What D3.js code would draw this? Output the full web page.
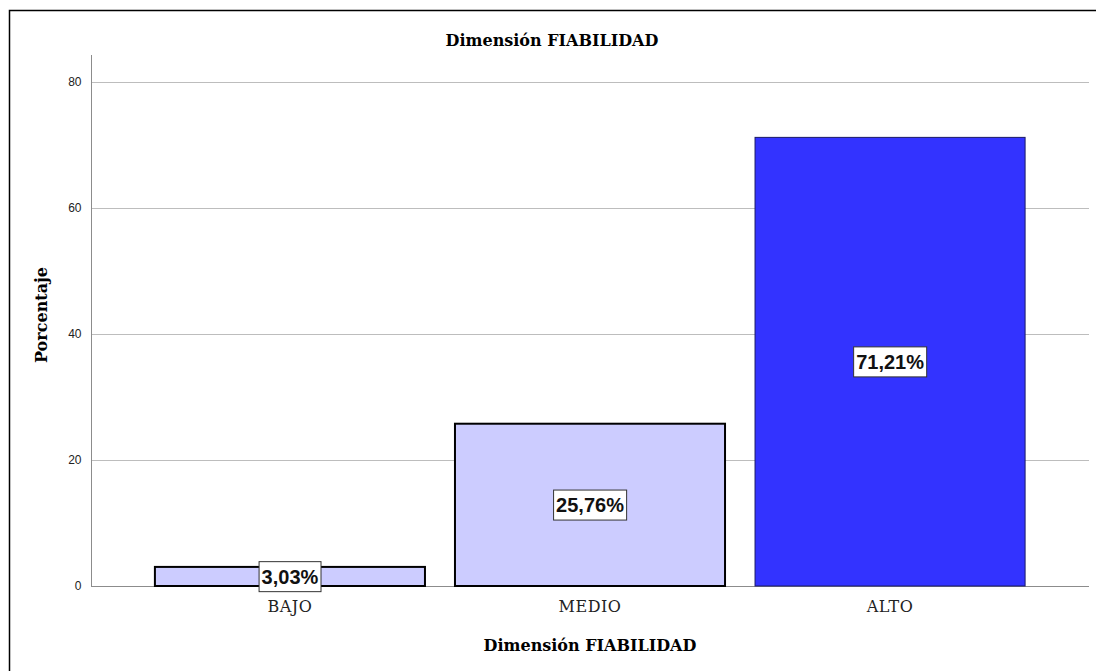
<!DOCTYPE html>
<html>
<head>
<meta charset="utf-8">
<script src="https://cdn.jsdelivr.net/npm/d3@7"></script>
<style>
  body { margin: 0; background: #fff; }
  svg { display: block; }
</style>
</head>
<body>
<div id="chart"></div>
<script>
// chart data
const categories = ["BAJO", "MEDIO", "ALTO"];
const percentages = [3.03, 25.76, 71.21];
const barLabels = ["3,03%", "25,76%", "71,21%"];
const yTicks = [0, 20, 40, 60, 80];
const barColors = ["#ccccff", "#ccccff", "#3333ff"];

const width = 1096, height = 671;
const plot = { left: 91, right: 1089, top: 55, bottom: 586 };
const serif = "DejaVu Serif, Liberation Serif, serif";

const svg = d3.select("#chart").append("svg")
    .attr("width", width)
    .attr("height", height);

// outer frame, runs off the right and bottom edges
svg.append("rect")
    .attr("x", 9.5).attr("y", 10.5)
    .attr("width", width + 20).attr("height", height + 20)
    .attr("fill", "none")
    .attr("stroke", "#000")
    .attr("stroke-width", 1.5);

let x = d3.scaleBand()
    .domain(categories)
    .range([plot.left, plot.right])
    .paddingInner(0.1)
    .paddingOuter(0.213);

let y = d3.scaleLinear()
    .domain([0, 80])
    .range([plot.bottom, plot.bottom - 504]);

// gridlines
svg.append("g").selectAll("line")
    .data(yTicks.filter(d => d > 0))
    .enter().append("line")
    .attr("x1", plot.left).attr("x2", plot.right)
    .attr("y1", d => Math.round(y(d)) + 0.5)
    .attr("y2", d => Math.round(y(d)) + 0.5)
    .attr("stroke", "#bdbdbd")
    .attr("stroke-width", 1);

// y axis
let yAx = svg.append("g")
    .attr("transform", "translate(" + (plot.left + 0.5) + ",0)")
    .call(d3.axisLeft(y).tickValues(yTicks).tickSize(0).tickPadding(10));
yAx.select(".domain").remove();
yAx.selectAll("text")
    .style("font-family", "Liberation Sans, Arial, sans-serif")
    .style("font-size", "12px")
    .attr("fill", "#222");

svg.append("line")
    .attr("x1", plot.left + 0.5).attr("x2", plot.left + 0.5)
    .attr("y1", plot.top).attr("y2", plot.bottom)
    .attr("stroke", "#8c8c8c");

svg.append("line")
    .attr("x1", plot.left).attr("x2", plot.right)
    .attr("y1", plot.bottom + 0.5).attr("y2", plot.bottom + 0.5)
    .attr("stroke", "#8c8c8c");

// bars
svg.append("g").selectAll("rect")
    .data(percentages)
    .enter().append("rect")
    .attr("x", (d, i) => x(categories[i]))
    .attr("y", d => y(d))
    .attr("width", x.bandwidth())
    .attr("height", d => y(0) - y(d))
    .attr("fill", (d, i) => barColors[i])
    .attr("stroke", (d, i) => i === 2 ? "#1a1a66" : "#000")
    .attr("stroke-width", (d, i) => i === 2 ? 1 : 2);

// value labels in boxes
let lab = svg.append("g").selectAll("g")
    .data(percentages)
    .enter().append("g")
    .attr("transform", (d, i) => "translate(" + (x(categories[i]) + x.bandwidth() / 2) + "," + (y(d / 2)) + ")");

lab.append("text")
    .attr("text-anchor", "middle")
    .attr("dy", "0.36em")
    .style("font-family", "Liberation Sans, Arial, sans-serif")
    .style("font-weight", "bold")
    .style("font-size", "20px")
    .attr("fill", "#111")
    .text((d, i) => barLabels[i]);

lab.each(function() {
    let g = d3.select(this);
    let bb = g.select("text").node().getBBox();
    g.insert("rect", "text")
        .attr("x", bb.x - 2.5).attr("y", bb.y - 4)
        .attr("width", bb.width + 5).attr("height", bb.height + 8)
        .attr("fill", "#fff")
        .attr("stroke", "#333")
        .attr("stroke-width", 1);
});

// x category labels
svg.append("g").selectAll("text")
    .data(categories)
    .enter().append("text")
    .attr("x", d => x(d) + x.bandwidth() / 2)
    .attr("y", 612)
    .attr("text-anchor", "middle")
    .style("font-family", serif)
    .style("font-size", "16px")
    .style("letter-spacing", "0.5px")
    .attr("fill", "#222")
    .text(d => d);

// titles
svg.append("text")
    .attr("x", 552).attr("y", 46)
    .attr("text-anchor", "middle")
    .style("font-family", serif)
    .style("font-weight", "bold")
    .style("font-size", "16px")
    .text("Dimensión FIABILIDAD");

svg.append("text")
    .attr("x", 590).attr("y", 651)
    .attr("text-anchor", "middle")
    .style("font-family", serif)
    .style("font-weight", "bold")
    .style("font-size", "16px")
    .text("Dimensión FIABILIDAD");

svg.append("text")
    .attr("transform", "translate(47,315) rotate(-90)")
    .attr("text-anchor", "middle")
    .style("font-family", serif)
    .style("font-weight", "bold")
    .style("font-size", "16px")
    .text("Porcentaje");
</script>
</body>
</html>
